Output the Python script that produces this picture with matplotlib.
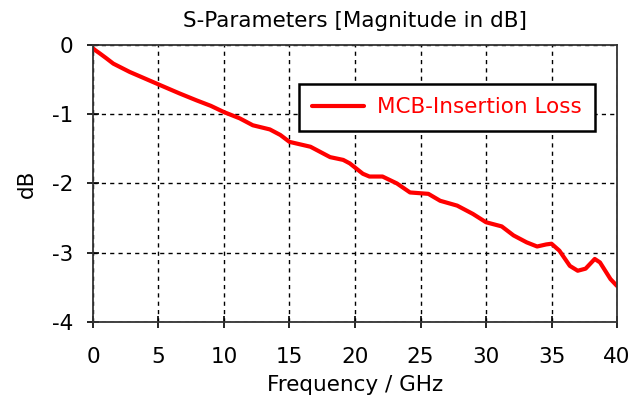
import numpy as np
import matplotlib
matplotlib.use("Agg")
import matplotlib.pyplot as plt

# ---- data ----
freq_ghz = [0.0, 0.2, 0.5, 1.0, 1.55, 2.8, 3.9, 5.0, 6.6, 7.9, 9.0, 10.0, 11.2, 12.2,
            13.5, 14.3, 15.0, 16.6, 17.4, 18.1, 19.1, 19.6, 20.6, 21.1, 22.1, 23.2,
            24.2, 25.6, 26.5, 27.8, 29.0, 30.0, 31.2, 32.1, 33.1, 33.9, 34.6, 35.0,
            35.6, 36.4, 37.0, 37.6, 38.3, 38.7, 39.5, 40.0]
loss_db = [-0.05, -0.08, -0.12, -0.19, -0.27, -0.39, -0.48, -0.57, -0.70, -0.80,
           -0.88, -0.97, -1.06, -1.16, -1.22, -1.30, -1.40, -1.47, -1.55, -1.62,
           -1.66, -1.71, -1.86, -1.90, -1.90, -2.00, -2.13, -2.15, -2.25, -2.32,
           -2.44, -2.56, -2.62, -2.75, -2.85, -2.91, -2.88, -2.87, -2.97, -3.19,
           -3.26, -3.23, -3.09, -3.14, -3.38, -3.48]
x_ticks = [0, 5, 10, 15, 20, 25, 30, 35, 40]
y_ticks = [0, -1, -2, -3, -4]

plt.rcParams["font.family"] = ["DejaVu Sans"]
plt.rcParams["axes.unicode_minus"] = False
FS = 15.5

fig = plt.figure(figsize=(6.43, 4.01), dpi=100)
ax = fig.add_axes([0.1446, 0.197, 0.815, 0.691])

ax.plot(freq_ghz, loss_db, color="#ff0000", lw=3, label="MCB-Insertion Loss",
        solid_capstyle="round", solid_joinstyle="round")

ax.set_xlim(0, 40); ax.set_ylim(-4, 0)
ax.set_xticks(x_ticks); ax.set_yticks(y_ticks)
ax.tick_params(direction="inout", length=8, width=1.2, labelsize=FS,
               top=False, right=False)
ax.tick_params(axis="x", pad=14)
ax.tick_params(axis="y", pad=10)
ax.grid(True, color="black", linestyle=(0, (3, 3)), linewidth=1.0)
for s in ax.spines.values():
    s.set_linewidth(1.3); s.set_color("#333333")

ax.set_title("S-Parameters [Magnitude in dB]", fontsize=FS, pad=13)
ax.set_xlabel("Frequency / GHz", fontsize=FS)
ax.set_ylabel("dB", fontsize=FS)
ax.xaxis.set_label_coords(0.5, -0.19)
ax.yaxis.set_label_coords(-0.107, 0.5)

leg = ax.legend(loc="upper right", bbox_to_anchor=(0.958, 0.859), fontsize=FS,
                fancybox=False, framealpha=1, edgecolor="black",
                handlelength=2.4, borderpad=0.62, handletextpad=0.6,
                borderaxespad=0, labelcolor="#ff0000")
leg.get_frame().set_linewidth(1.8)

fig.savefig("out.png", dpi=100)
